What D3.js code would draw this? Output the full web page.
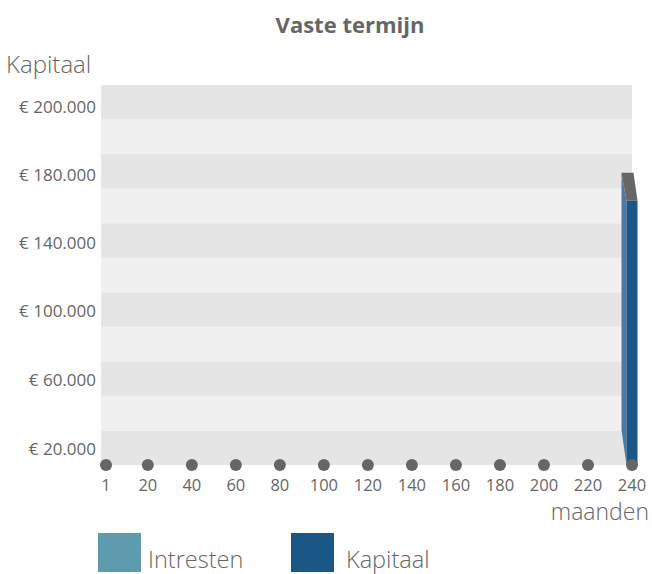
<!DOCTYPE html>
<html>
<head>
<meta charset="utf-8">
<script src="https://cdn.jsdelivr.net/npm/d3@7"></script>
<style>
  body { margin: 0; background: white; }
  text { font-family: "Open Sans", sans-serif; fill: #666; }
</style>
</head>
<body>
<div id="chart"></div>
<script>
// Vaste termijn - kapitaal per maand

const months = [1, 20, 40, 60, 80, 100, 120, 140, 160, 180, 200, 220, 240]
const kapitaal = [0, 0, 0, 0, 0, 0, 0, 0, 0, 0, 0, 0, 153000]
const intresten = [0, 0, 0, 0, 0, 0, 0, 0, 0, 0, 0, 0, 0]
const yTickValues = [9000, 49000, 89000, 128500, 168000, 207000]
const yTickLabels = ['€ 20.000', '€ 60.000', '€ 100.000', '€ 140.000', '€ 180.000', '€ 200.000']
const bandStep = 20000
const yMax = 220000
const legendItems = ['Intresten', 'Kapitaal']
const legendColors = ['#5f9bae', '#1a5686']

function chart() {
  let margin = { top: 85, left: 101, right: 20, bottom: 109 },
    width = 652,
    height = 574

  let svg = d3.select('#chart')
    .append('svg')
    .attr('width', width)
    .attr('height', height)

  const plotRight = 632
  const plotBottom = height - margin.bottom

  let x = d3.scaleLinear()
    .domain([1, 240])
    .range([106, 632])

  let y = d3.scaleLinear()
    .domain([0, yMax])
    .range([plotBottom, margin.top])

  // striped background bands
  let bands = d3.range(0, yMax, bandStep)
  svg.append('g')
    .selectAll('rect')
    .data(bands)
    .join('rect')
    .attr('x', margin.left)
    .attr('y', d => y(d + bandStep))
    .attr('width', plotRight - margin.left)
    .attr('height', d => y(d) - y(d + bandStep))
    .style('fill', (d, i) => i % 2 === 0 ? '#e5e5e5' : '#f0f0f0')

  // title
  svg.append('text')
    .attr('x', 350)
    .attr('y', 33)
    .text('Vaste termijn')
    .style('font-size', '22px')
    .style('font-weight', 'bold')
    .style('text-anchor', 'middle')

  // y axis title
  svg.append('text')
    .attr('x', 6)
    .attr('y', 73)
    .text('Kapitaal')
    .style('font-size', '24px')
    .style('font-weight', '300')

  // y tick labels
  svg.append('g')
    .selectAll('text')
    .data(yTickValues)
    .join('text')
    .attr('x', 96)
    .attr('y', d => y(d))
    .attr('dy', '0.35em')
    .text((d, i) => yTickLabels[i])
    .style('font-size', '17px')
    .style('text-anchor', 'end')

  // bars (kapitaal) with 3d side and top
  const barW = 11
  const depthX = 5
  const depthY = 28
  let barData = months.map((m, i) => ({ m: m, v: kapitaal[i] + intresten[i] })).filter(d => d.v > 0)

  let bars = svg.append('g')
    .selectAll('g')
    .data(barData)
    .join('g')

  bars.append('path')
    .attr('d', d => {
      let x0 = x(d.m) - barW / 2, t = y(d.v), b = y(0)
      return `M${x0 - depthX},${t - depthY}L${x0},${t}L${x0},${b}L${x0 - depthX},${b - 35}Z`
    })
    .style('fill', '#4f79a4')

  bars.append('rect')
    .attr('x', d => x(d.m) - barW / 2)
    .attr('y', d => y(d.v))
    .attr('width', barW)
    .attr('height', d => y(0) - y(d.v))
    .style('fill', legendColors[1])

  bars.append('path')
    .attr('d', d => {
      let x0 = x(d.m) - barW / 2, x1 = x0 + barW, t = y(d.v)
      return `M${x0 - depthX},${t - depthY}L${x1 - 4},${t - depthY}L${x1},${t}L${x0},${t}Z`
    })
    .style('fill', '#666')

  // x axis dots
  svg.append('g')
    .selectAll('circle')
    .data(months)
    .join('circle')
    .attr('cx', d => x(d))
    .attr('cy', plotBottom)
    .attr('r', 6)
    .style('fill', '#666')

  // x tick labels
  svg.append('g')
    .selectAll('text')
    .data(months)
    .join('text')
    .attr('x', d => x(d))
    .attr('y', 491)
    .text(d => d)
    .style('font-size', '16.5px')
    .style('text-anchor', 'middle')

  svg.append('text')
    .attr('x', 649)
    .attr('y', 520)
    .text('maanden')
    .style('font-size', '23px')
    .style('font-weight', '300')
    .style('text-anchor', 'end')

  // legend
  const legend_x = 98
  const legend_y = 533
  const x_incr = 193

  legendItems.forEach((name, i) => {
    svg.append('rect')
      .attr('x', legend_x + i * x_incr)
      .attr('y', legend_y)
      .attr('width', 43)
      .attr('height', 39)
      .style('fill', legendColors[i])

    svg.append('text')
      .attr('x', legend_x + i * x_incr + (i === 0 ? 50 : 55))
      .attr('y', legend_y + 35)
      .text(name)
      .style('font-size', '23.5px')
      .style('font-weight', '300')
  })
}
chart();
</script>
</body>
</html>
